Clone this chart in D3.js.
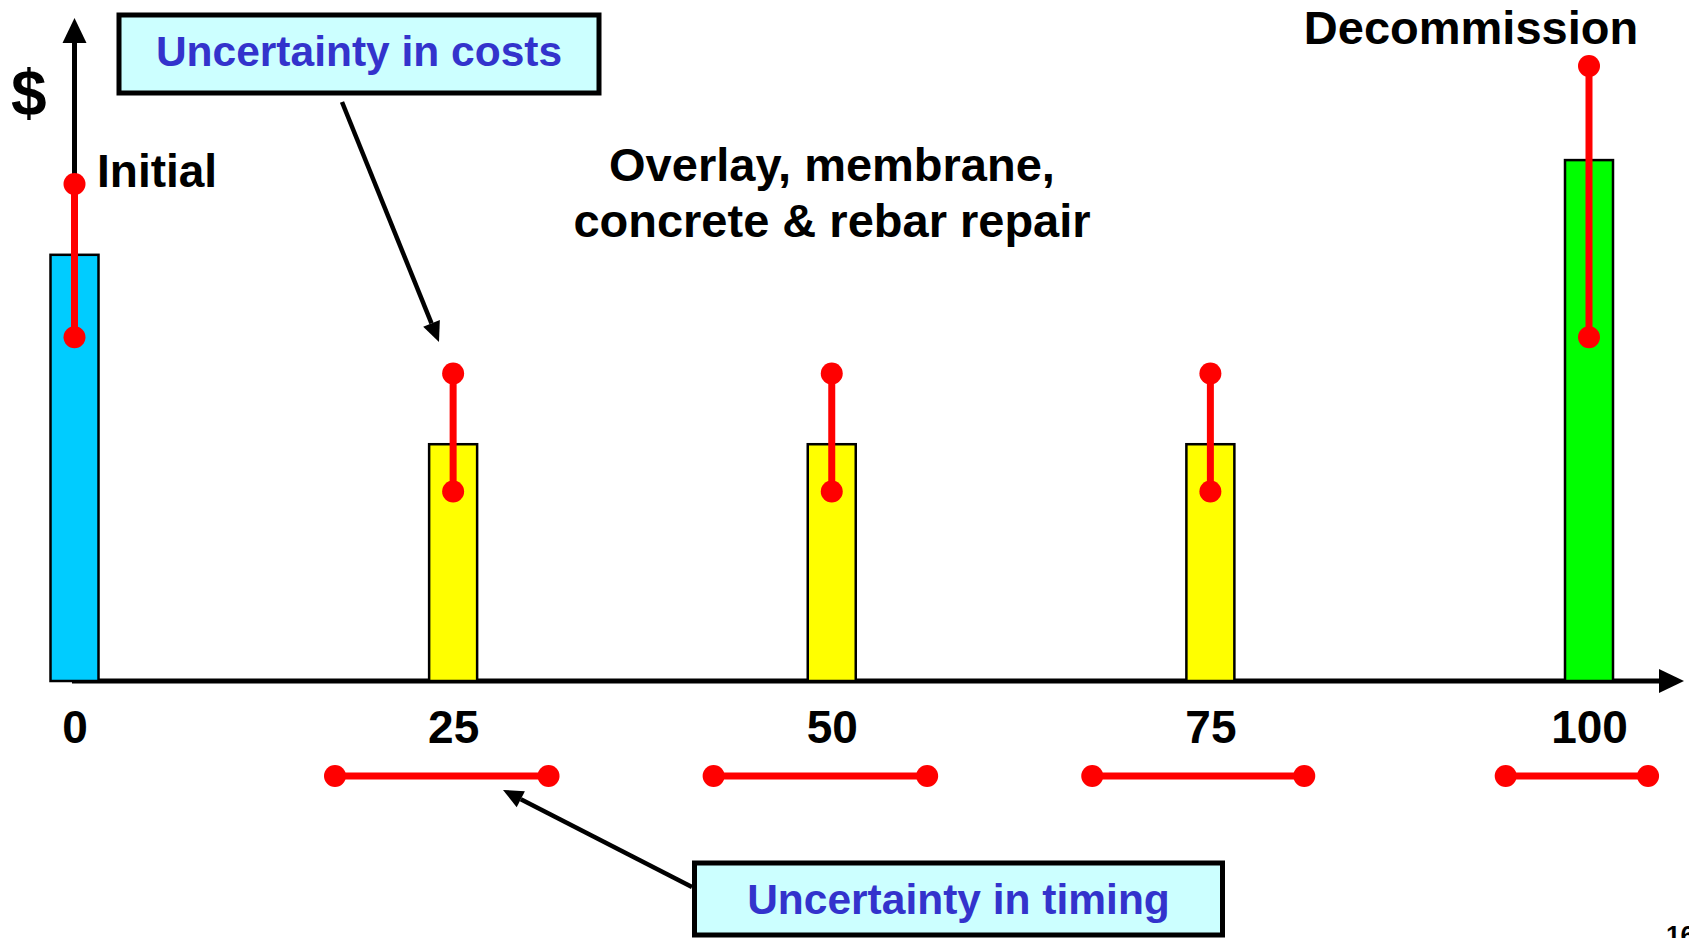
<!DOCTYPE html>
<html>
<head>
<meta charset="utf-8">
<script src="https://cdn.jsdelivr.net/npm/d3@7"></script>
<style>
  body { margin: 0; background: #fff; }
  svg { display: block; }
  text { font-family: "Liberation Sans", Arial, sans-serif; font-weight: bold; }
</style>
</head>
<body>
<svg id="mychart"></svg>
<script>
// cost events over the life of the structure (year, $ in relative units)
var years = [0, 25, 50, 75, 100];
var phases = ["Initial", "Repair", "Repair", "Repair", "Decommission"];
var costs = [69.3, 38.5, 38.5, 38.5, 84.7];
var costLow = [55.9, 30.8, 30.8, 30.8, 55.9];
var costHigh = [80.8, 50, 50, 50, 100];

// uncertainty in when the event happens (years)
var timingYears = [25, 50, 75, 100];
var timingLow = [17.2, 42.2, 67.2, 94.5];
var timingHigh = [31.3, 56.3, 81.2, 103.9];

var tickYears = [0, 25, 50, 75, 100];

var width = 1689;
var height = 938;
var baseY = 681;
var barWidth = 48;
var timingY = 776;
var dotR = 11;

var x = d3.scaleLinear().domain([0, 100]).range([74.5, 1589]);
var y = d3.scaleLinear().domain([0, 100]).range([baseY, 66]);
var color = d3.scaleOrdinal()
  .domain(["Initial", "Repair", "Decommission"])
  .range(["#00ccff", "#ffff00", "#00ff00"]);

var svg = d3.select("#mychart")
  .attr("width", width)
  .attr("height", height);

// straight line with a filled triangle at the end
function arrow(x1, y1, x2, y2, w, len, half) {
  var a = Math.atan2(y2 - y1, x2 - x1);
  var bx = x2 - len * Math.cos(a), by = y2 - len * Math.sin(a);
  var px = -Math.sin(a) * half, py = Math.cos(a) * half;
  svg.append("line")
    .attr("x1", x1).attr("y1", y1).attr("x2", bx).attr("y2", by)
    .attr("stroke", "#000").attr("stroke-width", w);
  svg.append("path")
    .attr("d", "M" + x2 + "," + y2 + "L" + (bx + px) + "," + (by + py) + "L" + (bx - px) + "," + (by - py) + "Z")
    .attr("fill", "#000");
}

// axes with arrow heads
arrow(x(0), baseY, x(0), 18, 5, 25, 12);
arrow(72, baseY, 1684, baseY, 5, 25, 12);

var data = years.map(function(d, i) {
  return { year: d, phase: phases[i], cost: costs[i], low: costLow[i], high: costHigh[i] };
});

// bars
svg.selectAll("rect.bar")
  .data(data)
  .enter()
  .append("rect")
  .attr("class", "bar")
  .attr("x", function(d) { return x(d.year) - barWidth / 2; })
  .attr("y", function(d) { return y(d.cost); })
  .attr("width", barWidth)
  .attr("height", function(d) { return y(0) - y(d.cost); })
  .attr("fill", function(d) { return color(d.phase); })
  .attr("stroke", "#000")
  .attr("stroke-width", 2.5);

// cost uncertainty
svg.selectAll("line.cost-err")
  .data(data)
  .enter()
  .append("line")
  .attr("class", "cost-err")
  .attr("x1", function(d) { return x(d.year); })
  .attr("x2", function(d) { return x(d.year); })
  .attr("y1", function(d) { return y(d.low); })
  .attr("y2", function(d) { return y(d.high); })
  .attr("stroke", "#ff0000")
  .attr("stroke-width", 7);

data.forEach(function(d) {
  [d.low, d.high].forEach(function(v) {
    svg.append("circle")
      .attr("cx", x(d.year))
      .attr("cy", y(v))
      .attr("r", dotR)
      .attr("fill", "#ff0000");
  });
});

// timing uncertainty
timingYears.forEach(function(t, i) {
  svg.append("line")
    .attr("x1", x(timingLow[i])).attr("x2", x(timingHigh[i]))
    .attr("y1", timingY).attr("y2", timingY)
    .attr("stroke", "#ff0000")
    .attr("stroke-width", 7);
  [timingLow[i], timingHigh[i]].forEach(function(v) {
    svg.append("circle")
      .attr("cx", x(v))
      .attr("cy", timingY)
      .attr("r", dotR)
      .attr("fill", "#ff0000");
  });
});

// tick labels
var xAxis = svg.append("g")
  .attr("transform", "translate(0," + baseY + ")")
  .call(d3.axisBottom(x).tickValues(tickYears).tickSize(0).tickPadding(29).tickFormat(d3.format("d")));
xAxis.select(".domain").remove();
xAxis.selectAll("text")
  .attr("font-size", 46)
  .attr("font-family", "'Liberation Sans', Arial, sans-serif")
  .attr("font-weight", "bold")
  .attr("fill", "#000");

// labels
svg.append("text").text("$")
  .attr("x", 11).attr("y", 115)
  .attr("font-size", 64);

svg.append("text").text("Initial")
  .attr("x", 97).attr("y", 187)
  .attr("font-size", 46);

svg.append("text").text("Decommission")
  .attr("x", 1471).attr("y", 44)
  .attr("text-anchor", "middle")
  .attr("font-size", 47);

svg.append("text").text("Overlay, membrane,")
  .attr("x", 832).attr("y", 181)
  .attr("text-anchor", "middle")
  .attr("font-size", 47);
svg.append("text").text("concrete & rebar repair")
  .attr("x", 832).attr("y", 237)
  .attr("text-anchor", "middle")
  .attr("font-size", 47);

// callout boxes
function callout(bx, by, bw, bh, label, ty) {
  svg.append("rect")
    .attr("x", bx).attr("y", by)
    .attr("width", bw).attr("height", bh)
    .attr("fill", "#ccffff")
    .attr("stroke", "#000")
    .attr("stroke-width", 5);
  svg.append("text").text(label)
    .attr("x", bx + bw / 2).attr("y", ty)
    .attr("text-anchor", "middle")
    .attr("font-size", 42.5)
    .attr("fill", "#3333cc");
}

callout(119, 15, 480, 78, "Uncertainty in costs", 66);
arrow(342, 102, 439, 342, 4.5, 20, 9);

callout(694.5, 863, 528, 72, "Uncertainty in timing", 914);
arrow(692, 887, 503, 790, 4.5, 20, 9);

// page number
svg.append("text").text("16")
  .attr("x", 1666).attr("y", 944)
  .attr("font-size", 26)
  .attr("font-weight", "normal");
</script>
</body>
</html>
